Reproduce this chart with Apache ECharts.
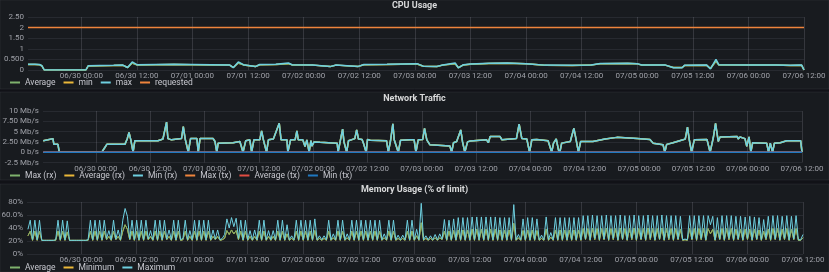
<!DOCTYPE html>
<html><head><meta charset="utf-8">
<script src="https://cdn.jsdelivr.net/npm/echarts@6/dist/echarts.min.js"></script>
<style>html,body{margin:0;padding:0;background:#111217;}#c{width:829px;height:272px;}</style>
</head><body><div id="c"></div>
<script>
// ---- shared time axis (hours relative to 06/30 00:00) ----
const xTickHours = [0,12,24,36,48,60,72,84,96,108,120,132,144,156];
const xTickLabels = ['06/30 00:00','06/30 12:00','07/01 00:00','07/01 12:00','07/02 00:00','07/02 12:00','07/03 00:00','07/03 12:00','07/04 00:00','07/04 12:00','07/05 00:00','07/05 12:00','07/06 00:00','07/06 12:00'];

// ---- CPU Usage ----
const cpuTickValues = [0,0.5,1,1.5,2,2.5];
const cpuTickLabels = ['0','0.500','1','1.50','2','2.50'];
const cpuLegend = ['Average','min','max','requested'];
const cpuTimes = [-11.5,-10,-9,-8.5,-8, 1,1.5,4,7,9, 10,11,12,16,20, 24,28,32,32.8,33.9, 35,37.6,38.5,42,44.7, 45.5,50,53.7,55,59.8, 61,66,72.5,73.8,76.8, 78,80.7,81.4,82.5,84, 88,92,96,100,106, 110,112,118,120,121, 126,127.8,129.7,130.2,135, 135.8,137,137.6,145,150, 153,155.5,156];
const cpuMax = [0.27,0.27,0.26,0.2,0, 0,0.2,0.21,0.22,0.23, 0.12,0.38,0.25,0.26,0.27, 0.26,0.25,0.24,0.11,0.38, 0.25,0.16,0.26,0.27,0.33, 0.25,0.24,0.16,0.24,0.17, 0.26,0.27,0.3,0.18,0.17, 0.24,0.33,0.1,0.25,0.28, 0.32,0.33,0.3,0.23,0.22, 0.24,0.31,0.32,0.3,0.24, 0.24,0.11,0.11,0.22,0.23, 0.05,0.5,0.25,0.24,0.24, 0.22,0.23,0];
const cpuAvg = [0.26,0.26,0.25,0.19,0, 0,0.19,0.2,0.21,0.22, 0.12,0.33,0.24,0.25,0.26, 0.25,0.24,0.23,0.12,0.33, 0.24,0.16,0.25,0.26,0.3, 0.24,0.23,0.16,0.23,0.17, 0.25,0.26,0.28,0.18,0.17, 0.23,0.3,0.11,0.24,0.27, 0.31,0.32,0.29,0.22,0.21, 0.23,0.3,0.31,0.29,0.23, 0.23,0.12,0.12,0.21,0.22, 0.07,0.42,0.24,0.23,0.23, 0.21,0.22,0];
// min is not distinguishable from the average in the picture
const cpuMin = [0.26,0.26,0.25,0.19,0, 0,0.19,0.2,0.21,0.22, 0.12,0.33,0.24,0.25,0.26, 0.25,0.24,0.23,0.12,0.33, 0.24,0.16,0.25,0.26,0.3, 0.24,0.23,0.16,0.23,0.17, 0.25,0.26,0.28,0.18,0.17, 0.23,0.3,0.11,0.24,0.27, 0.31,0.32,0.29,0.22,0.21, 0.23,0.3,0.31,0.29,0.23, 0.23,0.12,0.12,0.21,0.22, 0.07,0.42,0.24,0.23,0.23, 0.21,0.22,0];
const cpuRequestedTimes = [-11.5,156];
const cpuRequested = [2,2];

// ---- Network Traffic (Mb/s) ----
const netTickValues = [-2.5,0,2.5,5,7.5,10];
const netTickLabels = ['-2.5 Mb/s','0 b/s','2.50 Mb/s','5 Mb/s','7.50 Mb/s','10 Mb/s'];
const netLegend = ['Max (rx)','Average (rx)','Min (rx)','Max (tx)','Average (tx)','Min (tx)'];
// [hour, Mb/s] — the three rx series coincide in the picture
const netRx = [
 [-11.65,2.8],[-10.6,3.0],[-10.2,3.3],[-9.5,3.3],[-9.3,1.9],[-8.4,1.9],[-8.1,0],[1.3,0],[2.0,1.2],[2.4,1.9],
 [6.4,1.9],[6.9,3.2],[7.3,4.8],[7.7,3.0],[8.2,0],[8.6,2.8],[13.7,2.8],[14.8,3.2],[15.6,7.3],[15.9,3.3],
 [16.7,3.0],[18.9,3.3],[19.3,6.2],[19.7,3.3],[20.4,0],[20.9,3.3],[22.3,3.3],[22.6,0],[23.0,3.3],[25.9,3.3],
 [26.3,2.6],[26.7,0],[27.0,2.2],[30.3,2.3],[31.8,2.6],[32.5,0],[33.1,2.8],[34.0,3.0],[34.4,0],[34.9,3.0],
 [36.2,3.0],[36.6,5.2],[37.0,3.0],[37.7,0],[38.1,3.0],[39.2,3.2],[40.5,7.0],[40.9,3.0],[42.2,3.0],[42.4,0],
 [43.0,3.0],[44.0,3.0],[44.4,5.2],[44.7,3.0],[45.7,3.0],[46.2,1.4],[46.6,3.0],[47.1,0],[47.5,2.8],[47.7,1.5],
 [48.2,2.5],[49.5,2.4],[53.3,2.2],[53.5,0],[54.1,3.4],[54.5,5.6],[54.8,2.5],[55.4,0],[55.8,2.8],[57.2,3.3],
 [57.6,5.4],[58.0,3.2],[58.8,3.1],[59.1,2.2],[59.7,0],[60.0,3.1],[60.6,2.9],[64.2,2.8],[64.6,0],[65.1,2.9],
 [65.6,6.9],[65.9,3.0],[66.8,0],[67.3,2.9],[69.4,3.0],[70.3,3.0],[70.7,0],[71.2,3.0],[72.2,3.1],[72.6,5.8],
 [73.1,3.0],[73.8,1.8],[78.2,1.5],[78.6,0],[79.0,2.3],[79.7,2.6],[80.6,5.4],[81.0,2.5],[81.5,0],[82.1,2.5],
 [82.7,2.7],[86.3,3.0],[86.7,2.3],[87.1,3.8],[89.3,3.8],[89.7,3.0],[89.9,3.3],[92.9,3.3],[93.5,6.8],[94.1,3.3],
 [95.2,3.2],[95.8,0],[96.3,3.0],[97.4,3.1],[99.9,2.8],[100.7,0],[101.1,2.2],[101.7,3.2],[102.2,0.5],[102.5,0],
 [102.9,2.2],[104.8,2.6],[105.1,3.0],[105.6,5.8],[106.1,3.0],[106.6,0],[107.1,2.6],[109.8,2.6],[112.5,3.2],[115.1,3.6],
 [119.6,3.3],[122.4,3.1],[123.1,2.2],[125.3,1.8],[125.7,0],[126.1,1.9],[127.5,2.3],[129.7,3.0],[130.2,3.2],[130.7,6.1],
 [131.1,3.0],[131.6,0],[132.2,3.0],[135.0,3.1],[135.3,3.3],[135.7,0],[136.4,3.5],[136.9,7.0],[137.5,2.6],[137.9,3.7],
 [141.7,3.8],[141.9,3.2],[142.3,3.7],[143.4,3.3],[143.8,1.4],[144.3,3.7],[144.7,0],[145.1,2.3],[148.2,2.2],[148.6,0],
 [149.0,2.2],[149.5,0],[149.9,2.2],[151.2,2.3],[152.6,2.8],[155.7,2.8],[156.0,0]
];
const netTx = [[-11.65,0],[156.0,0]];

// ---- Memory Usage (% of limit), 30-minute samples from h = -11.5 ----
const memTickValues = [0,20,40,60,80];
const memTickLabels = ['0%','20%','40%','60.0%','80%'];
const memLegend = ['Average','Minimum','Maximum'];
const memStart = -11.5, memStep = 0.5;
const memMax = [
 38,52,22,52,22,52,21,21,21,21,21,21,22,52,22,52,22,51,21,21,21,21,21,21,
 21,21,22,52,22,52,22,52,22,52,24,36,22,52,23,37,22,52,70,58,23,52,22,52,
 22,52,22,52,23,36,22,52,22,52,22,52,23,37,22,52,22,52,22,24,52,22,36,22,
 52,22,52,22,52,22,52,22,37,23,37,22,24,30,54,40,56,42,55,24,52,22,52,22,
 36,22,37,22,52,22,52,22,36,22,36,22,52,22,52,22,45,22,28,22,52,22,52,22,
 52,22,52,22,54,22,28,22,28,22,52,22,31,22,52,22,52,22,31,22,52,22,52,22,
 52,22,52,22,52,22,52,22,52,22,31,22,52,22,52,22,29,22,29,22,52,22,52,22,
 38,22,78,22,28,22,28,22,30,22,31,23,53,22,52,22,54,22,56,22,56,22,56,22,
 57,22,57,22,57,22,57,22,57,22,57,22,56,22,56,22,56,22,76,22,30,22,54,22,
 56,22,56,22,54,22,29,22,57,22,33,22,56,22,56,22,56,22,56,22,56,22,56,22,
 59,23,59,22,60,24,59,22,59,23,60,22,59,24,59,22,60,23,59,22,59,24,60,22,
 59,23,59,22,60,24,59,22,59,23,60,22,59,24,59,22,59,23,58,22,23,22,59,23,
 59,22,59,24,59,22,59,45,58,22,56,23,59,22,59,24,59,22,58,23,58,22,57,24,
 58,22,57,23,56,22,53,24,58,22,59,23,59,22,58,24,59,22,58,23,59,22,22,30
];
const memAvg = [
 28,35,21,35,21,35,21,21,21,21,21,21,21,35,21,35,21,34,21,21,21,21,21,21,
 21,21,21,35,21,35,21,35,21,35,22,27,21,35,22,27,21,35,45,38,22,35,21,35,
 21,35,21,35,22,27,21,35,21,35,21,35,22,27,21,35,21,35,21,22,35,21,27,21,
 35,21,35,21,35,21,35,21,27,22,27,21,22,24,36,30,37,31,36,22,35,21,35,21,
 27,21,27,21,35,21,35,21,27,21,27,21,35,21,35,21,31,21,24,21,35,21,35,21,
 35,21,35,21,36,21,24,21,24,21,35,21,25,21,35,21,35,21,25,21,35,21,35,21,
 35,21,35,21,35,21,35,21,35,21,25,21,35,21,35,21,24,21,24,21,35,21,35,21,
 28,21,48,21,24,21,24,21,25,21,25,22,35,21,35,21,36,21,37,21,37,21,37,21,
 38,21,38,21,38,21,38,21,38,21,38,21,37,21,37,21,37,21,47,21,25,21,36,21,
 37,21,37,21,36,21,24,21,38,21,26,21,37,21,37,21,37,21,37,21,37,21,37,21,
 39,22,39,21,40,22,39,21,39,22,40,21,39,22,39,21,40,22,39,21,39,22,40,21,
 39,22,39,21,40,22,39,21,39,22,40,21,39,22,39,21,39,22,38,21,22,21,39,22,
 39,21,39,22,39,21,39,31,38,21,37,22,39,21,39,22,39,21,38,22,38,21,38,22,
 38,21,38,22,37,21,35,22,38,21,39,22,39,21,38,22,39,21,38,22,39,21,21,25
];
// the minimum line is never visible apart from the average in the picture
const memMin = memAvg;

// ---- colours ----
const C = {green:'#7EB26D', yellow:'#EAB839', cyan:'#6ED0E0', orange:'#EF843C', red:'#E24D42', blue:'#1F78C1'};

function pick(vals, labels){ return v => { for (let i=0;i<vals.length;i++) if (Math.abs(vals[i]-v)<1e-9) return labels[i]; return ''; }; }
function line(name, data, color, width, idx){
  return {type:'line', name, data, xAxisIndex:idx, yAxisIndex:idx, showSymbol:false, symbol:'none',
    lineStyle:{color, width}, itemStyle:{color}, animation:false, silent:true, emphasis:{disabled:true}};
}
const zip = (t, v) => t.map((x,i)=>[x, v[i]]);
const memSeries = arr => arr.map((v,i)=>[memStart + i*memStep, v]);

const axisText = {color:'#9fa1a8', fontSize:8, fontFamily:'Roboto'};
function xAxis(idx, min, max){
  return {type:'value', gridIndex:idx, min, max,
    axisLine:{show:false},
    axisTick:{show:false, customValues:xTickHours},
    axisLabel:Object.assign({customValues:xTickHours, margin:2, formatter:pick(xTickHours,xTickLabels)}, axisText),
    splitLine:{show:true, lineStyle:{color:'rgba(204,204,220,0.16)', width:1}}};
}
function yAxis(idx, min, max, interval, vals, labels){
  return {type:'value', gridIndex:idx, min, max, interval,
    axisLine:{show:false}, axisTick:{show:false},
    axisLabel:Object.assign({margin:4, formatter:pick(vals,labels)}, axisText),
    splitLine:{show:true, lineStyle:{color:'rgba(204,204,220,0.09)', width:1}}};
}
const legendCommon = {icon:'rect', itemWidth:10, itemHeight:2, itemGap:8, padding:0, selectedMode:false,
  textStyle:{color:'#c7c8cf', fontSize:8.5, fontFamily:'Roboto'}};
const titleCommon = {left:'center', padding:0, textStyle:{color:'#d8d9da', fontSize:9, fontWeight:'bold', fontFamily:'Roboto', lineHeight:10}};

const chart = echarts.init(document.getElementById('c'), null, {renderer:'canvas'});
chart.setOption({
  backgroundColor:'#111217',
  animation:false,
  graphic:[
    {type:'rect', silent:true, z:-10, shape:{x:0,y:0,width:829,height:89}, style:{fill:'#181b1f', stroke:'rgba(204,204,220,0.07)'}},
    {type:'rect', silent:true, z:-10, shape:{x:0,y:92,width:829,height:88}, style:{fill:'#181b1f', stroke:'rgba(204,204,220,0.07)'}},
    {type:'rect', silent:true, z:-10, shape:{x:0,y:184,width:829,height:88}, style:{fill:'#181b1f', stroke:'rgba(204,204,220,0.07)'}}
  ],
  title:[
    Object.assign({text:'CPU Usage', top:1}, titleCommon),
    Object.assign({text:'Network Traffic', top:94}, titleCommon),
    Object.assign({text:'Memory Usage (% of limit)', top:185}, titleCommon)
  ],
  legend:[
    Object.assign({data:cpuLegend, left:10, top:78}, legendCommon),
    Object.assign({data:netLegend, left:10, top:171}, legendCommon),
    Object.assign({data:memLegend, left:10, top:263}, legendCommon)
  ],
  grid:[
    {left:28, width:776, top:17, height:53, outerBoundsMode:'none', containLabel:false},
    {left:43, width:759, top:111, height:51.5, outerBoundsMode:'none', containLabel:false},
    {left:27, width:776, top:202, height:52, outerBoundsMode:'none', containLabel:false}
  ],
  xAxis:[ xAxis(0,-11.5,156), xAxis(1,-11.7,156), xAxis(2,-11.7,156) ],
  yAxis:[
    yAxis(0,0,2.5,0.5,cpuTickValues,cpuTickLabels),
    yAxis(1,-2.5,10,2.5,netTickValues,netTickLabels),
    yAxis(2,0,80,20,memTickValues,memTickLabels)
  ],
  series:[
    line('min', zip(cpuTimes,cpuMin), C.yellow, 1.5, 0),
    line('Average', zip(cpuTimes,cpuAvg), C.green, 1.5, 0),
    line('max', zip(cpuTimes,cpuMax), C.cyan, 1.5, 0),
    line('requested', zip(cpuRequestedTimes,cpuRequested), C.orange, 1.5, 0),

    line('Max (rx)', netRx, C.green, 1.5, 1),
    line('Average (rx)', netRx, C.yellow, 1.5, 1),
    line('Min (rx)', netRx, C.cyan, 1.5, 1),
    line('Max (tx)', netTx, C.orange, 1.5, 1),
    line('Average (tx)', netTx, C.red, 1.5, 1),
    line('Min (tx)', netTx, C.blue, 1.5, 1),

    line('Minimum', memSeries(memMin), C.yellow, 1, 2),
    line('Average', memSeries(memAvg), C.green, 1, 2),
    line('Maximum', memSeries(memMax), C.cyan, 1, 2)
  ]
});
</script></body></html>
